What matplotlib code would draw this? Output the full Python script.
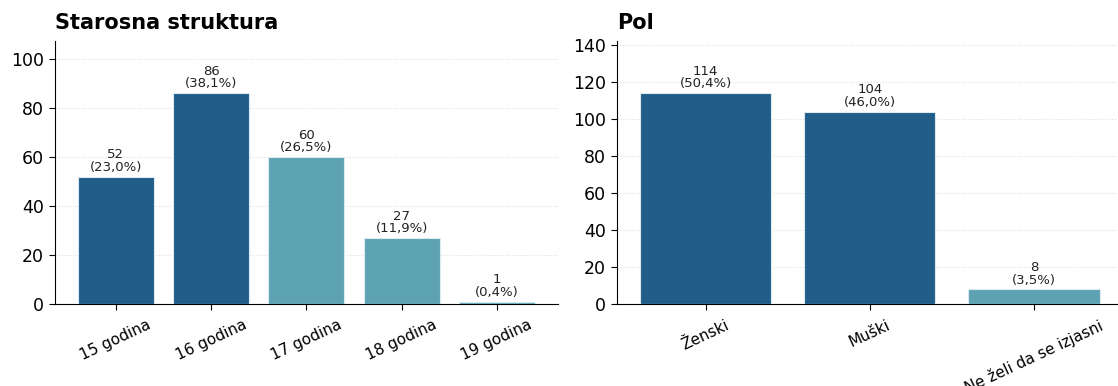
import matplotlib
matplotlib.use("Agg")
import matplotlib.pyplot as plt
from matplotlib.ticker import MultipleLocator

age_labels = ["15 godina", "16 godina", "17 godina", "18 godina", "19 godina"]
age_counts = [52, 86, 60, 27, 1]
age_dark = [True, True, False, False, False]

gender_labels = ["Ženski", "Muški", "Ne želi da se izjasni"]
gender_counts = [114, 104, 8]
gender_dark = [True, True, False]

DARK = "#215d89"
LIGHT = "#5ea3b3"


def bar_panel(ax, labels, counts, dark, title):
    total = sum(counts)
    colors = [DARK if d else LIGHT for d in dark]
    x = range(len(labels))
    bars = ax.bar(x, counts, width=0.8, color=colors, edgecolor="#dbe9f1", linewidth=0.8, zorder=3)
    for b, c in zip(bars, counts):
        pct = f"{100 * c / total:.1f}".replace(".", ",")
        ax.annotate(f"{c}\n({pct}%)", (b.get_x() + b.get_width() / 2, c),
                    xytext=(0, 2), textcoords="offset points",
                    ha="center", va="bottom", fontsize=9.5, color="#222222",
                    linespacing=0.95)
    ax.set_xticks(list(x))
    ax.set_xticklabels(labels, rotation=25, ha="center", fontsize=11)
    ax.tick_params(axis="x", pad=5, length=4.5)
    ax.tick_params(axis="y", labelsize=12.5, length=4.5)
    ax.set_ylim(0, max(counts) * 1.25)
    ax.yaxis.set_major_locator(MultipleLocator(20))
    ax.yaxis.grid(True, linestyle=":", color="#dddddd", linewidth=0.8, zorder=0)
    ax.set_axisbelow(True)
    ax.spines["top"].set_visible(False)
    ax.spines["right"].set_visible(False)
    ax.set_title(title, loc="left", fontsize=15, fontweight="bold", pad=8)


fig = plt.figure(figsize=(11.18, 3.86), dpi=100)
ax1 = fig.add_axes([0.049, 0.212, 0.450, 0.683])
ax2 = fig.add_axes([0.552, 0.212, 0.452, 0.683])

bar_panel(ax1, age_labels, age_counts, age_dark, "Starosna struktura")
bar_panel(ax2, gender_labels, gender_counts, gender_dark, "Pol")

fig.savefig("out.png", dpi=100)
plt.close(fig)
